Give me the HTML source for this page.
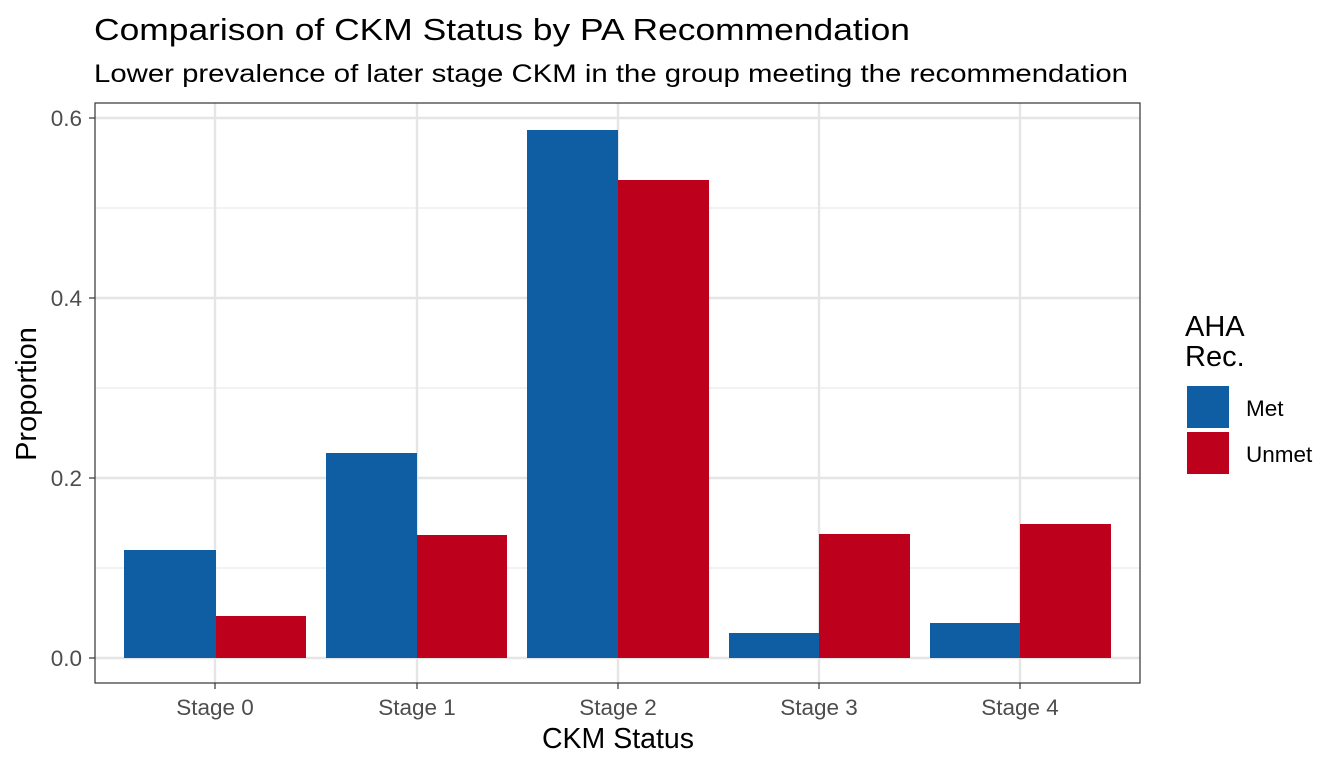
<!DOCTYPE html>
<html><head><style>body{margin:0;background:#fff}</style></head><body>
<svg width="1344" height="768" xmlns="http://www.w3.org/2000/svg" font-family="Liberation Sans, Arial, sans-serif">
<rect width="1344" height="768" fill="#fff"/>
<text x="94" y="40" font-size="31" fill="#000" textLength="816" lengthAdjust="spacingAndGlyphs">Comparison of CKM Status by PA Recommendation</text>
<text x="94" y="82" font-size="25" fill="#000" textLength="1034" lengthAdjust="spacingAndGlyphs">Lower prevalence of later stage CKM in the group meeting the recommendation</text>
<g stroke="#ebebeb" stroke-width="1.2">
<line x1="95" x2="1140" y1="568" y2="568"/><line x1="95" x2="1140" y1="388" y2="388"/><line x1="95" x2="1140" y1="208" y2="208"/>
</g>
<g stroke="#e5e5e5" stroke-width="2.4">
<line x1="95" x2="1140" y1="658" y2="658"/><line x1="95" x2="1140" y1="478" y2="478"/><line x1="95" x2="1140" y1="298" y2="298"/><line x1="95" x2="1140" y1="118" y2="118"/>
<line x1="215" x2="215" y1="103" y2="683"/><line x1="417" x2="417" y1="103" y2="683"/><line x1="618" x2="618" y1="103" y2="683"/><line x1="819" x2="819" y1="103" y2="683"/><line x1="1020" x2="1020" y1="103" y2="683"/>
</g>
<g fill="#0F5DA2">
<rect x="124" y="550" width="92" height="108"/><rect x="326" y="453" width="91" height="205"/><rect x="527" y="130" width="91" height="528"/><rect x="729" y="633" width="90" height="25"/><rect x="930" y="623" width="90" height="35"/>
</g>
<g fill="#BD001C">
<rect x="216" y="616" width="90" height="42"/><rect x="417" y="535" width="90" height="123"/><rect x="618" y="180" width="91" height="478"/><rect x="819" y="534" width="91" height="124"/><rect x="1020" y="524" width="91" height="134"/>
</g>
<rect x="95" y="103" width="1045" height="580" fill="none" stroke="#333" stroke-width="1.2"/>
<g font-size="22.5" fill="#4d4d4d" text-anchor="end">
<text x="82" y="666">0.0</text><text x="82" y="486">0.2</text><text x="82" y="306">0.4</text><text x="82" y="126">0.6</text>
</g>
<g stroke="#333" stroke-width="1.2">
<line x1="89" x2="95" y1="658" y2="658"/><line x1="89" x2="95" y1="478" y2="478"/><line x1="89" x2="95" y1="298" y2="298"/><line x1="89" x2="95" y1="118" y2="118"/>
<line x1="215" x2="215" y1="683" y2="689"/><line x1="417" x2="417" y1="683" y2="689"/><line x1="618" x2="618" y1="683" y2="689"/><line x1="819" x2="819" y1="683" y2="689"/><line x1="1020" x2="1020" y1="683" y2="689"/>
</g>
<g font-size="22.5" fill="#4d4d4d" text-anchor="middle">
<text x="215" y="715">Stage 0</text><text x="417" y="715">Stage 1</text><text x="618" y="715">Stage 2</text><text x="819" y="715">Stage 3</text><text x="1020" y="715">Stage 4</text>
</g>
<text x="618" y="748" font-size="28.5" text-anchor="middle">CKM Status</text>
<text transform="translate(36,394) rotate(-90)" font-size="29" text-anchor="middle">Proportion</text>
<text x="1185" y="336" font-size="29">AHA</text>
<text x="1185" y="366" font-size="29">Rec.</text>
<rect x="1187" y="386" width="42" height="42" fill="#0F5DA2"/>
<rect x="1187" y="432" width="42" height="42" fill="#BD001C"/>
<text x="1246" y="416" font-size="22.5">Met</text>
<text x="1246" y="462" font-size="22.5">Unmet</text>
</svg>
</body></html>
